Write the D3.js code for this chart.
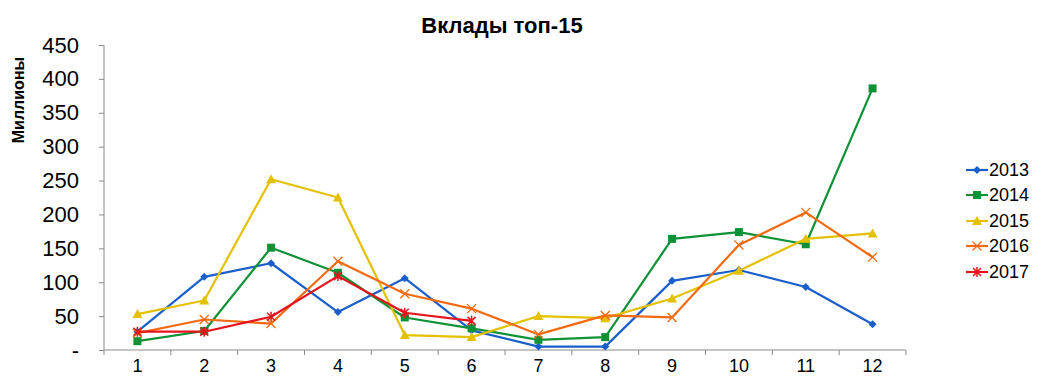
<!DOCTYPE html>
<html><head><meta charset="utf-8">
<script src="https://cdn.jsdelivr.net/npm/d3@7"></script>
<style>
body{margin:0;background:#fff;}
svg{font-family:"Liberation Sans",Arial,Helvetica,sans-serif;}
</style></head>
<body><svg id="c" width="1043" height="387"></svg>
<script>
const categories = ["1","2","3","4","5","6","7","8","9","10","11","12"];
const yTicks = [0,50,100,150,200,250,300,350,400,450];
const s2013 = [27,108,128,56,106,29,5,5,102,118,93,38];
const s2014 = [13,28,151,114,48,32,15,19,164,174,156,386];
const s2015 = [53,73,252,225,22,19,50,47,76,117,164,172];
const s2016 = [25,45,39,131,83,61,23,51,48,155,203,137];
const s2017 = [27,27,49,109,55,43];
const seriesNames = ["2013","2014","2015","2016","2017"];
const seriesValues = [s2013,s2014,s2015,s2016,s2017];
const colors = ["#1a5fc9","#0f9236","#e3c000","#f46a10","#e5141c"];
const symbols = ["diamond","square","triangle","x","asterisk"];

const svg = d3.select("#c");
const x = d3.scaleBand().domain(categories).range([104,906]);
const y = d3.scaleLinear().domain([0,450]).range([350,45]);
const axisColor = "#8a8a8a";

// y axis
const ya = svg.append("g").attr("transform","translate(104,0)")
  .call(d3.axisLeft(y).tickValues(yTicks).tickSize(5).tickPadding(20)
    .tickFormat(d=> d===0 ? "-" : d));
ya.select(".domain").attr("stroke",axisColor).attr("d","M0,350V45");
ya.selectAll(".tick line").attr("stroke",axisColor);
ya.selectAll(".tick text").attr("font-size",22).attr("fill","#000")
  .attr("font-family","'Liberation Sans',Arial,sans-serif");

// x axis
const xa = svg.append("g").attr("transform","translate(0,350)")
  .call(d3.axisBottom(x).tickSize(0).tickPadding(9));
xa.select(".domain").attr("stroke",axisColor).attr("d","M104,0H906");
xa.selectAll(".tick text").attr("font-size",18).attr("fill","#000")
  .attr("font-family","'Liberation Sans',Arial,sans-serif");
const bounds = categories.map(c=>x(c)).concat([x.range()[1]]);
svg.append("g").selectAll("line").data(bounds).join("line")
  .attr("x1",d=>d).attr("x2",d=>d).attr("y1",350).attr("y2",355)
  .attr("stroke",axisColor);

const cx = c => x(c)+x.bandwidth()/2;
const line = d3.line().x((d,i)=>cx(categories[i])).y(d=>y(d));

function drawMarker(g, type, color, px, py){
  if(type==="diamond"){
    g.append("path").attr("d",`M${px},${py-4}L${px+4},${py}L${px},${py+4}L${px-4},${py}Z`).attr("fill",color);
  } else if(type==="square"){
    g.append("rect").attr("x",px-4).attr("y",py-4).attr("width",8).attr("height",8).attr("fill",color);
  } else if(type==="triangle"){
    g.append("path").attr("d",`M${px},${py-5}L${px+5},${py+4}L${px-5},${py+4}Z`).attr("fill",color);
  } else if(type==="x"){
    g.append("path").attr("d",`M${px-4.5},${py-4.5}L${px+4.5},${py+4.5}M${px-4.5},${py+4.5}L${px+4.5},${py-4.5}`)
      .attr("stroke",color).attr("stroke-width",1.3);
  } else {
    g.append("path").attr("d",`M${px-4},${py-4}L${px+4},${py+4}M${px-4},${py+4}L${px+4},${py-4}M${px},${py-5}L${px},${py+5}`)
      .attr("stroke",color).attr("stroke-width",1.5);
  }
}

seriesValues.forEach((vals,si)=>{
  const g = svg.append("g");
  g.append("path").datum(vals).attr("d",line).attr("fill","none")
    .attr("stroke",colors[si]).attr("stroke-width",2.2).attr("stroke-linejoin","round");
  vals.forEach((v,i)=>drawMarker(g,symbols[si],colors[si],cx(categories[i]),y(v)));
});

// legend
const legY = [170,195,221,246,272];
seriesNames.forEach((n,i)=>{
  const g = svg.append("g");
  g.append("line").attr("x1",966).attr("x2",988).attr("y1",legY[i]).attr("y2",legY[i])
    .attr("stroke",colors[i]).attr("stroke-width",2.2);
  drawMarker(g,symbols[i],colors[i],977,legY[i]);
  g.append("text").attr("x",989).attr("y",legY[i]).attr("dy","0.35em")
    .attr("font-size",18).text(n);
});

// title
svg.append("text").attr("x",502).attr("y",33).attr("text-anchor","middle")
  .attr("font-size",22).attr("font-weight","bold").text("Вклады топ-15");
// y label
svg.append("text").attr("transform","translate(24,100) rotate(-90)")
  .attr("text-anchor","middle").attr("font-size",16).attr("font-weight","bold").text("Миллионы");
</script></body></html>
